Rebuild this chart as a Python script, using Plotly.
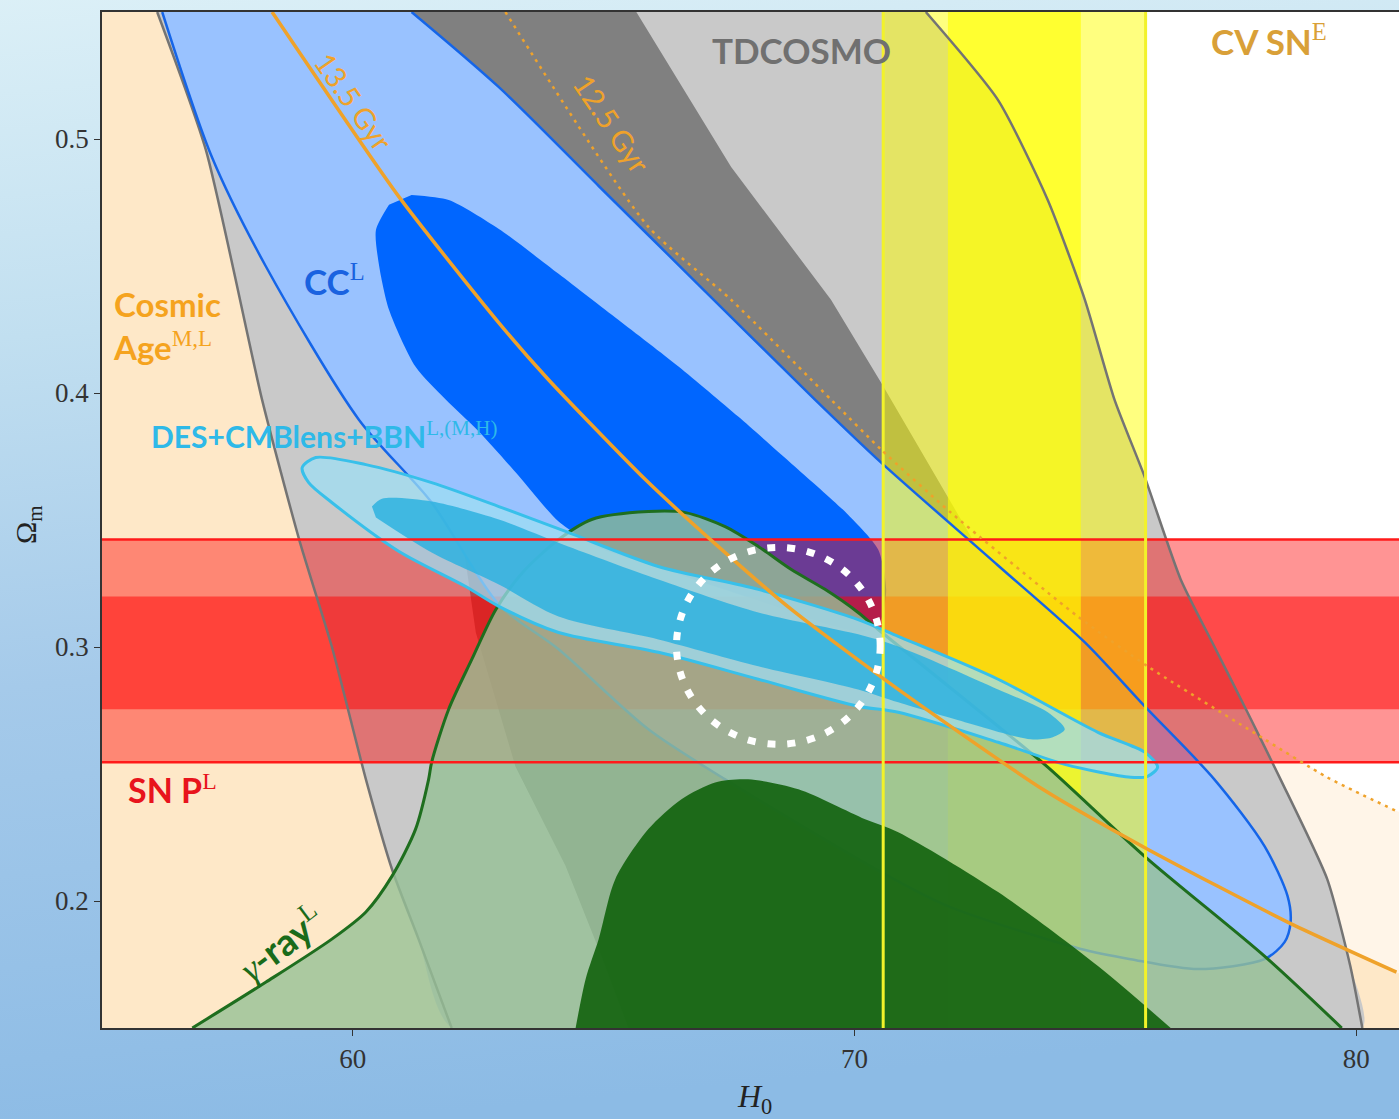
import base64
import plotly.graph_objects as go

# ---------------- axis limits ----------------
X_MIN, X_MAX = 55.0, 81.07
Y_MIN, Y_MAX = 0.15, 0.55
XPAD, YPAD = 1.0, 0.02

# ---------------- data (H0, Omega_m) ----------------
# cosmic age iso-lines
age135_h0 = [58.39, 60.92, 62.91, 63.90, 65.83, 67.28, 68.74, 70.87, 73.75, 75.84, 78.63, 80.80]
age135_om = [0.550, 0.4772, 0.4276, 0.4052, 0.3659, 0.3396, 0.3148, 0.2833, 0.2440, 0.2204, 0.1917, 0.1720]
age125_h0 = [63.04, 65.89, 67.54, 69.53, 70.53, 71.92, 74.45, 75.84, 78.17, 79.42, 80.80]
age125_om = [0.550, 0.4654, 0.4367, 0.3974, 0.3777, 0.3529, 0.3120, 0.2924, 0.2637, 0.2487, 0.2354]

# TDCOSMO outer band edges
td_left_h0 = [56.10, 57.07, 58.19, 58.93, 59.58, 60.26, 60.78, 61.31, 61.97]
td_left_om = [0.550, 0.4957, 0.3974, 0.3423, 0.3002, 0.2479, 0.2125, 0.1850, 0.150]
td_right_h0 = [71.42, 72.86, 73.85, 74.59, 75.18, 75.78, 76.50, 77.17, 77.83, 78.49, 79.42, 79.88, 80.12]
td_right_om = [0.550, 0.5153, 0.4760, 0.4367, 0.3974, 0.3671, 0.3266, 0.3002, 0.2743, 0.2479, 0.2086, 0.1744, 0.150]
# TDCOSMO inner band
td_inner_h0 = [60.82, 65.65, 67.54, 69.53, 70.53, 71.86, 73.05, 73.65, 72.86, 71.86,
               65.49, 64.90, 64.24, 63.24, 62.45, 62.11, 61.51, 61.11]
td_inner_om = [0.550, 0.550, 0.4890, 0.4367, 0.4040, 0.3592, 0.3187, 0.2794, 0.2204, 0.150,
               0.150, 0.1811, 0.2138, 0.2530, 0.3057, 0.3527, 0.4367, 0.4957]

# Cosmic chronometers (CC)
cc_outer_h0 = [61.17, 62.91, 64.90, 66.89, 69.21, 70.53, 72.86, 74.59, 75.78, 77.17, 78.17, 78.63,
               78.69, 78.57, 78.17, 76.84, 75.50, 74.51, 71.86, 70.53, 67.42, 65.89, 64.10, 62.91,
               61.57, 60.12, 58.27, 57.19, 56.20]
cc_outer_om = [0.550, 0.5204, 0.4815, 0.4426, 0.3974, 0.3726, 0.3321, 0.3018, 0.2767, 0.2479, 0.2216, 0.2019,
               0.1917, 0.1838, 0.1771, 0.1732, 0.1771, 0.1811, 0.1980, 0.2114, 0.2479, 0.2676, 0.2991, 0.3167,
               0.3569, 0.3895, 0.4497, 0.4929, 0.550]
cc_inner_h0 = [61.17, 61.91, 62.91, 64.10, 65.29, 66.49, 67.68, 68.88, 69.87, 70.47, 70.63, 70.51, 70.17,
               69.47, 68.48, 67.28, 66.09, 64.90, 64.10, 63.30, 62.51, 61.85, 61.25, 60.72, 60.52, 60.46, 60.72]
cc_inner_om = [0.4780, 0.4760, 0.4646, 0.4469, 0.4288, 0.4104, 0.3907, 0.3698, 0.3521, 0.3384, 0.3227, 0.3101, 0.3061,
               0.3089, 0.3156, 0.3234, 0.3313, 0.3392, 0.3494, 0.3675, 0.3848, 0.3974, 0.4103, 0.4328, 0.4505, 0.4642, 0.4741]

# SN Pantheon (Omega_m bands) and SH0ES (H0 bands)
sn_inner = [0.2755, 0.3199]
sn_outer = [0.2546, 0.3423]
sh0es_inner = [71.86, 74.51]
sh0es_outer = [70.57, 75.80]

# gamma-ray attenuation
gam_out_h0 = [56.80, 58.27, 59.58, 60.26, 60.78, 61.25, 61.51, 61.57, 61.91, 62.37, 62.85, 63.40, 64.10,
              64.76, 65.89, 66.63, 67.42, 68.08, 68.74, 69.41, 70.07, 70.47, 72.86, 73.85, 75.78, 78.17, 79.71]
gam_out_om = [0.150, 0.1681, 0.1850, 0.1957, 0.2098, 0.2283, 0.2479, 0.2546, 0.2755, 0.2951, 0.3148, 0.3297, 0.3423,
              0.3502, 0.3533, 0.3529, 0.3474, 0.3396, 0.3305, 0.3227, 0.3136, 0.3069, 0.2688, 0.2527, 0.2176, 0.1783, 0.150]
gam_in_h0 = [64.44, 64.64, 64.90, 65.23, 65.89, 66.55, 67.22, 67.88, 68.88, 70.21, 70.87, 72.86, 74.85, 76.30]
gam_in_om = [0.150, 0.1693, 0.1850, 0.2086, 0.2283, 0.2401, 0.2467, 0.2479, 0.2440, 0.2322, 0.2271, 0.2035, 0.1744, 0.150]

# DES + CMB lensing + BBN
des_out_h0 = [58.99, 59.26, 60.26, 61.57, 62.91, 64.24, 66.09, 68.08, 70.07, 70.87, 72.86, 74.85, 75.78, 76.04,
              75.84, 75.50, 74.19, 72.86, 70.87, 70.07, 68.08, 66.09, 64.10, 62.91, 62.25, 60.92, 59.58, 59.12]
des_out_om = [0.3706, 0.3746, 0.3718, 0.3647, 0.3553, 0.3455, 0.3317, 0.3227, 0.3108, 0.3042, 0.2873, 0.2664, 0.2586, 0.2527,
              0.2491, 0.2487, 0.2538, 0.2625, 0.2743, 0.2767, 0.2873, 0.2979, 0.3057, 0.3160, 0.3238, 0.3376, 0.3569, 0.3647]
des_in_h0 = [60.38, 60.58, 61.57, 62.91, 64.20, 66.09, 68.08, 70.07, 70.87, 72.86, 73.85, 74.19,
             73.95, 73.51, 72.20, 70.87, 70.07, 68.08, 66.09, 64.10, 62.91, 61.57, 60.46]
des_in_om = [0.3553, 0.3584, 0.3573, 0.3502, 0.3403, 0.3266, 0.3136, 0.3050, 0.3002, 0.2833, 0.2743, 0.2676,
             0.2645, 0.2637, 0.2704, 0.2782, 0.2833, 0.2924, 0.3030, 0.3120, 0.3246, 0.3372, 0.3510]

# dotted circle (H0 range, Omega_m range)
circle_h0 = [66.45, 70.51]
circle_om = [0.2617, 0.3392]

# ---------------- figure ----------------
fig = go.Figure()


def fill(x, y, color, shape="spline", smoothing=0.8):
    fig.add_trace(go.Scatter(x=x, y=y, mode="lines", fill="toself", fillcolor=color,
                             line=dict(width=0, shape=shape, smoothing=smoothing),
                             hoverinfo="skip", showlegend=False))


def line(x, y, color, width, dash="solid", shape="spline", smoothing=0.6):
    fig.add_trace(go.Scatter(x=x, y=y, mode="lines",
                             line=dict(color=color, width=width, dash=dash, shape=shape, smoothing=smoothing),
                             hoverinfo="skip", showlegend=False))


# white plot background (the page gradient sits behind the plot area)
fill([X_MIN - XPAD, X_MAX + XPAD, X_MAX + XPAD, X_MIN - XPAD],
     [Y_MIN - YPAD, Y_MIN - YPAD, Y_MAX + YPAD, Y_MAX + YPAD], "white", shape="linear")

# cosmic age background
fill(age135_h0 + [X_MAX + XPAD, X_MAX + XPAD, X_MIN - XPAD, X_MIN - XPAD],
     age135_om + [age135_om[-1] - 0.01, Y_MIN - YPAD, Y_MIN - YPAD, Y_MAX + YPAD], "#FEE8C8", shape="linear")
fill(age125_h0 + [X_MAX + XPAD, X_MAX + XPAD] + age135_h0[::-1],
     age125_om + [age125_om[-1] - 0.006, age135_om[-1] - 0.01] + age135_om[::-1], "#FFF5E8", shape="linear")

# TDCOSMO
fill(td_left_h0 + td_right_h0[::-1], td_left_om + td_right_om[::-1], "#C9C9C9", smoothing=0.6)
fill(td_inner_h0, td_inner_om, "#808080", shape="linear")

# CC
fill(cc_outer_h0, cc_outer_om, "#99C2FF")
fill(cc_inner_h0, cc_inner_om, "#0066FF", smoothing=0.7)

# SN P bands
fill([X_MIN - XPAD, X_MAX + XPAD, X_MAX + XPAD, X_MIN - XPAD],
     [sn_outer[0], sn_outer[0], sn_outer[1], sn_outer[1]], "rgba(255,0,0,0.42)", shape="linear")
fill([X_MIN - XPAD, X_MAX + XPAD, X_MAX + XPAD, X_MIN - XPAD],
     [sn_inner[0], sn_inner[0], sn_inner[1], sn_inner[1]], "rgba(255,0,0,0.50)", shape="linear")

# SH0ES bands
fill([sh0es_outer[0], sh0es_outer[1], sh0es_outer[1], sh0es_outer[0]],
     [Y_MIN - YPAD, Y_MIN - YPAD, Y_MAX + YPAD, Y_MAX + YPAD], "rgba(255,255,0,0.50)", shape="linear")
fill([sh0es_inner[0], sh0es_inner[1], sh0es_inner[1], sh0es_inner[0]],
     [Y_MIN - YPAD, Y_MIN - YPAD, Y_MAX + YPAD, Y_MAX + YPAD], "rgba(255,255,0,0.62)", shape="linear")

# edge lines of TDCOSMO and CC
line(td_left_h0, td_left_om, "#747474", 2.5)
line(td_right_h0, td_right_om, "#747474", 2.5)
line(cc_outer_h0, cc_outer_om, "#1565E8", 2.5, smoothing=0.8)

# gamma-ray
fill(gam_out_h0, gam_out_om, "rgba(150,192,150,0.80)")
line(gam_out_h0, gam_out_om, "#1E6E1E", 3, smoothing=0.8)
fill(gam_in_h0, gam_in_om, "rgba(20,100,15,0.92)")

# DES
fill(des_out_h0, des_out_om, "rgba(157,221,243,0.75)")
line(des_out_h0 + des_out_h0[:1], des_out_om + des_out_om[:1], "#38C0EA", 3, smoothing=0.8)
fill(des_in_h0, des_in_om, "rgba(46,178,223,0.85)")

# band edge lines
for yv in sn_outer:
    line([X_MIN - XPAD, X_MAX + XPAD], [yv, yv], "#FF1A1A", 2.5, shape="linear")
for xv in sh0es_outer:
    line([xv, xv], [Y_MIN - YPAD, Y_MAX + YPAD], "#F2F22A", 3, shape="linear")

# age lines
line(age135_h0, age135_om, "#EFA22A", 3.5)
line(age125_h0, age125_om, "#EFA22A", 2.5, dash="3px,5px")

# ---------------- layout geometry ----------------
W, H = 1412, 1119
ML, MR, MT, MB = 102, 0, 12, 91
pw, ph = W - ML - MR, H - MT - MB

# ---------------- background gradient ----------------
svg = ('<svg xmlns="http://www.w3.org/2000/svg" width="100" height="100" viewBox="0 0 100 100" '
       'preserveAspectRatio="none"><defs><linearGradient id="g" x1="0" y1="0" x2="0.12" y2="1">'
       '<stop offset="0" stop-color="#DCF0F7"/><stop offset="0.3" stop-color="#C1DFF0"/>'
       '<stop offset="0.6" stop-color="#A5CAEA"/><stop offset="1" stop-color="#8CBBE5"/>'
       '</linearGradient></defs><rect width="100" height="100" fill="url(#g)"/></svg>')
svg_uri = "data:image/svg+xml;base64," + base64.b64encode(svg.encode()).decode()

fig.add_layout_image(dict(source=svg_uri, xref="paper", yref="paper",
                          x=-ML / pw - 0.01, y=1 + MT / ph + 0.01,
                          sizex=W / pw + 0.03, sizey=H / ph + 0.03,
                          xanchor="left", yanchor="top", sizing="stretch", layer="below"))

# dotted circle
fig.add_shape(type="circle", xref="x", yref="y", x0=circle_h0[0], x1=circle_h0[1],
              y0=circle_om[0], y1=circle_om[1], line=dict(color="white", width=7, dash="8px,12px"),
              layer="above")

# ---------------- text ----------------
SERIF = "Liberation Serif"
SANS = "Lato"


def sup(s):
    return f"<sup><span style='font-family:{SERIF};font-weight:normal'>{s}</span></sup>"


def ann(text, x, y, color, size, xanchor="center", angle=0, align="left"):
    fig.add_annotation(x=x, y=y, xref="x", yref="y", text=text, showarrow=False,
                       font=dict(family=SANS, size=size, color=color),
                       xanchor=xanchor, yanchor="middle", textangle=angle, align=align)


ann("<b>TDCOSMO</b>", 68.95, 0.535, "#707070", 35)
ann("<b>CV SN</b>" + sup("E"), 78.25, 0.539, "#D9A038", 35)
ann("<b>Cosmic</b><br><b>Age</b>" + sup("M,L"), 55.18, 0.4265, "#F5A31E", 33, xanchor="left")
ann("<b>CC</b>" + sup("L"), 58.98, 0.4446, "#1A62E0", 35, xanchor="left")
ann("<b>DES+CMBlens+BBN</b>" + sup("L,(M,H)"), 55.94, 0.3836, "#2EB9E8", 30, xanchor="left")
ann("<b>SN P</b>" + sup("L"), 55.48, 0.2440, "#E8141C", 34, xanchor="left")
ann(f"<span style='font-family:{SERIF};font-style:italic;font-weight:normal'>γ</span><b>-ray</b>" + sup("L"),
    58.57, 0.1838, "#1A6B1A", 37, angle=-37)
ann("13.5 Gyr", 60.02, 0.5146, "#EFA22A", 29, angle=55)
ann("12.5 Gyr", 65.17, 0.5063, "#EFA22A", 29, angle=56)

# axis titles
fig.add_annotation(x=(755 - ML) / pw, y=-(1098 - MT - ph) / ph, xref="paper", yref="paper",
                   text="<i>H</i><sub>0</sub>", showarrow=False,
                   font=dict(family=SERIF, size=32, color="#222"), xanchor="center", yanchor="middle")
fig.add_annotation(x=(28 - ML) / pw, y=(MT + ph - 525) / ph, xref="paper", yref="paper",
                   text="Ω<sub>m</sub>", showarrow=False, textangle=-90,
                   font=dict(family=SERIF, size=30, color="#222"), xanchor="center", yanchor="middle")

fig.update_layout(
    width=W, height=H,
    margin=dict(l=ML, r=MR, t=MT, b=MB),
    paper_bgcolor="#A8CCEA", plot_bgcolor="white",
    showlegend=False,
    xaxis=dict(range=[X_MIN, X_MAX], tickvals=[60, 70, 80], ticktext=["60", "70", "80"],
               showgrid=False, zeroline=False, showline=True, mirror=True, linecolor="#333",
               linewidth=1.5, ticks="outside", ticklen=6, tickcolor="#333",
               tickfont=dict(family=SERIF, size=27, color="#333")),
    yaxis=dict(range=[Y_MIN, Y_MAX], tickvals=[0.2, 0.3, 0.4, 0.5], ticktext=["0.2", "0.3", "0.4", "0.5"],
               showgrid=False, zeroline=False, showline=True, mirror=True, linecolor="#333",
               linewidth=1.5, ticks="outside", ticklen=6, tickcolor="#333",
               tickfont=dict(family=SERIF, size=27, color="#333")),
)

fig.write_html("out.html", config={"displayModeBar": False},
               post_script="document.body.style.margin='0';document.body.style.overflow='hidden';")
